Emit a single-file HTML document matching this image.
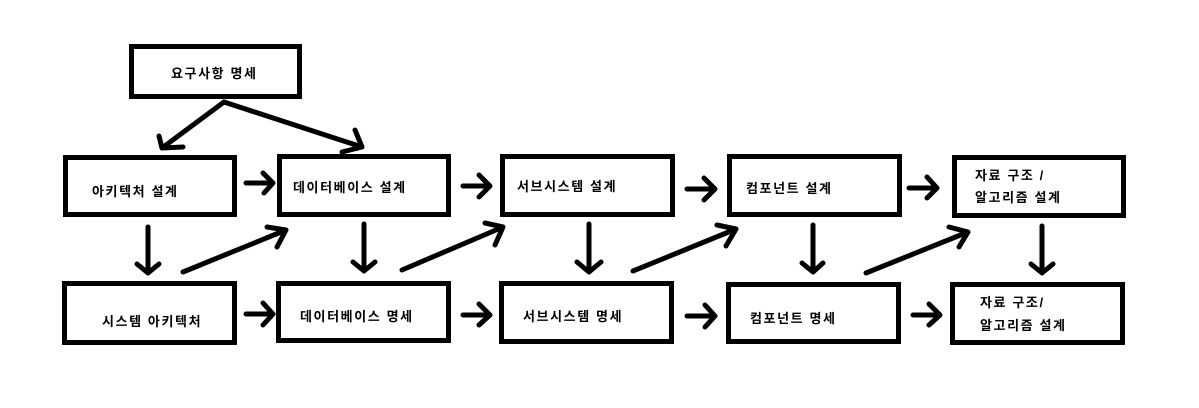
<!DOCTYPE html>
<html>
<head>
<meta charset="utf-8">
<style>
  html, body { margin: 0; padding: 0; background: #fff; }
  svg { display: block; }
  text { font-family: "Liberation Sans", "Noto Sans CJK KR", "NanumGothic", sans-serif; font-size: 13px; font-weight: bold; letter-spacing: 1.6px; fill: #000; }
</style>
</head>
<body>
<svg width="1199" height="408" viewBox="0 0 1199 408" xmlns="http://www.w3.org/2000/svg">
  <rect x="0" y="0" width="1199" height="408" fill="#fff"/>
  <g fill="none" stroke="#000" stroke-width="5">
    <rect x="131.5" y="46.5" width="168" height="50"/>
    <rect x="65.5" y="157.5" width="169" height="57"/>
    <rect x="279.5" y="156.5" width="169" height="58"/>
    <rect x="502.5" y="156.5" width="170" height="58"/>
    <rect x="729.5" y="156.5" width="170" height="58"/>
    <rect x="954.5" y="157.5" width="169" height="58"/>
    <rect x="64.5" y="283.5" width="170" height="59"/>
    <rect x="278.5" y="283.5" width="170" height="57"/>
    <rect x="501.5" y="283.5" width="170" height="58"/>
    <rect x="728.5" y="284.5" width="170" height="57"/>
    <rect x="952.5" y="284.5" width="170" height="58"/>
  </g>
  <g fill="none" stroke="#000" stroke-width="5" stroke-linecap="round" stroke-linejoin="round">
    <!-- from top box -->
    <path d="M224 102 L162 148 M159 136 L162 148 L183 147"/>
    <path d="M224 102 L362 147 M355 130 L362 147 L342 152"/>
    <!-- top row horizontal -->
    <path d="M246 183 L273 183 M263 173 L273 183 L264 193"/>
    <path d="M463 186 L490 186 M479 175 L490 186 L479 197"/>
    <path d="M687 189 L715 189 M704 178 L715 189 L704 200"/>
    <path d="M909 188 L937 188 M927 177 L937 188 L927 198"/>
    <!-- bottom row horizontal -->
    <path d="M246 314 L273 314 M263 303 L273 314 L263 325"/>
    <path d="M463 315 L490 315 M479 304 L490 315 L479 325"/>
    <path d="M687 316 L715 316 M705 305 L715 316 L705 327"/>
    <path d="M913 315 L940 315 M929 304 L940 315 L929 325"/>
    <!-- verticals -->
    <path d="M148 227 L148 273 M137 264 L148 273 L159 264"/>
    <path d="M364 224 L364 271 M353 262 L364 271 L375 262"/>
    <path d="M589 224 L589 272 M577 262 L589 272 L601 262"/>
    <path d="M813 225 L813 272 M802 263 L813 272 L823 263"/>
    <path d="M1042 226 L1042 273 M1031 264 L1042 273 L1053 264"/>
    <!-- diagonals -->
    <path d="M183 272 L286 230 M267 227 L286 230 L277 247"/>
    <path d="M402 270 L503 227 M485 223 L503 227 L495 245"/>
    <path d="M633 271 L736 229 M717 225 L736 229 L726 246"/>
    <path d="M866 273 L968 232 M949 227 L968 232 L959 247"/>
  </g>
  <text x="171" y="78">요구사항 명세</text>
  <text x="92" y="196">아키텍처 설계</text>
  <text x="293" y="192">데이터베이스 설계</text>
  <text x="517" y="191">서브시스템 설계</text>
  <text x="746" y="193">컴포넌트 설계</text>
  <text x="975" y="180">자료 구조 /</text>
  <text x="975" y="202">알고리즘 설계</text>
  <text x="102" y="326">시스템 아키텍처</text>
  <text x="300" y="321">데이터베이스 명세</text>
  <text x="523" y="321">서브시스템 명세</text>
  <text x="750" y="323">컴포넌트 명세</text>
  <text x="980" y="307">자료 구조/</text>
  <text x="980" y="330">알고리즘 설계</text>
</svg>
</body>
</html>
